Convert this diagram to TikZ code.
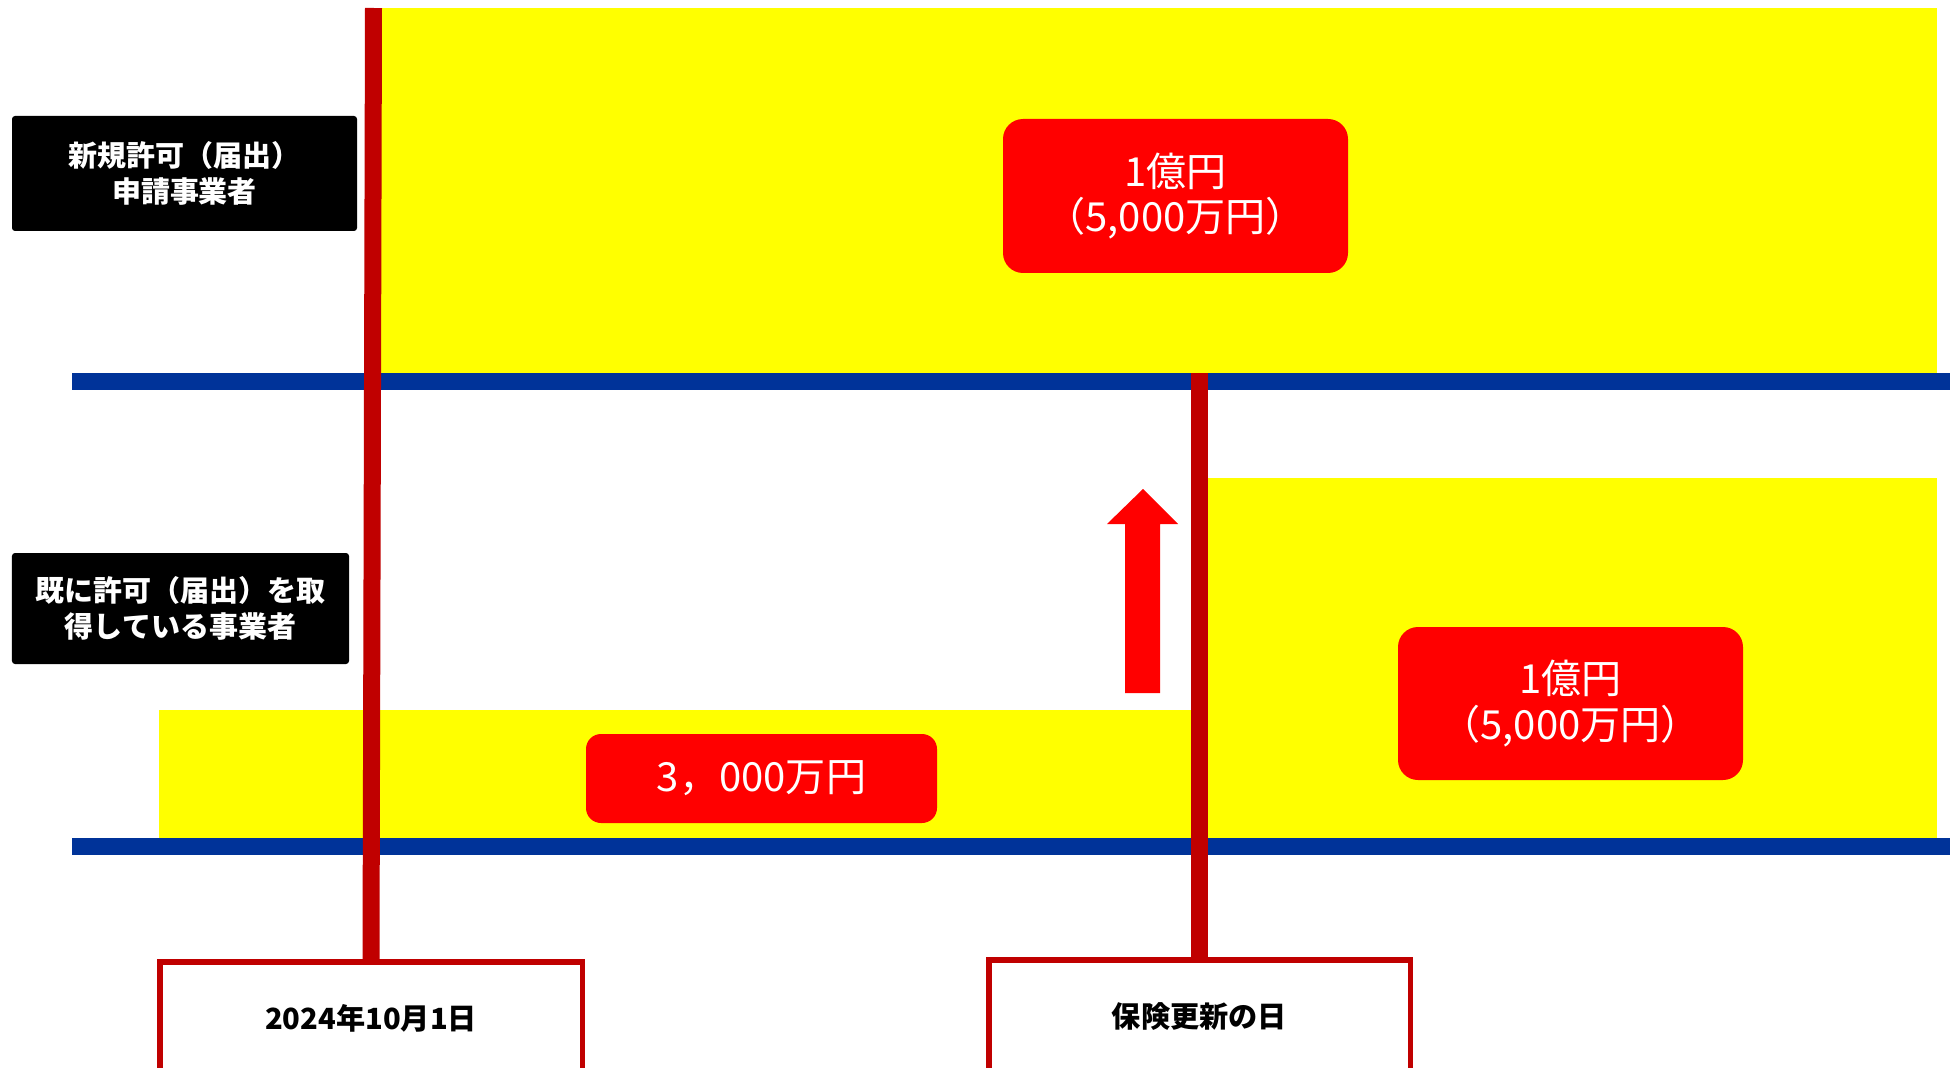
\documentclass[tikz,border=0pt]{standalone}
\usepackage{fontspec}
\setmainfont{Noto Sans CJK JP}
\usepackage{tikz}
\definecolor{darkred}{HTML}{C00000}
\definecolor{lineblue}{HTML}{003399}
\definecolor{bandyellow}{RGB}{255,255,0}
\definecolor{boxred}{RGB}{255,0,0}

\begin{document}
\begin{tikzpicture}[
	groupbox/.style={fill=black, text=white, rounded corners=0.03cm, align=center, inner sep=0, font=\bfseries\fontsize{8.25}{10.4}\selectfont},
	pricebox/.style={fill=boxred, text=white, rounded corners=0.2cm, align=center, inner sep=0, font=\fontsize{11.4}{13}\selectfont},
	datebox/.style={draw=darkred, line width=0.055cm, fill=white, inner sep=0, font=\bfseries\fontsize{8.3}{9.6}\selectfont}
	]
			\useasboundingbox (0,0) rectangle (19.5,10.67);
			\clip (0,0) rectangle (19.5,10.67);
			\fill[color=bandyellow] (3.80,10.59) rectangle (19.37,6.94);
			\fill[color=bandyellow] (12.08,5.89) rectangle (19.37,2.29);
			\fill[color=bandyellow] (1.59,3.57) rectangle (11.91,2.29);
			\fill[color=lineblue] (0.72,6.77) rectangle (19.5,6.94);
			\fill[color=lineblue] (0.72,2.12) rectangle (19.5,2.29);
			\node[groupbox, minimum width=3.45cm, minimum height=1.15cm] (newco) at (1.845,8.935) {新規許可（届出）\\申請事業者};
			\node[groupbox, minimum width=3.37cm, minimum height=1.11cm] (oldco) at (1.805,4.585) {既に許可（届出）を取\\得している事業者};
			\node[pricebox, minimum width=3.45cm, minimum height=1.54cm] (newamt) at (11.755,8.71) {1億円\\（5,000万円）};
			\node[pricebox, minimum width=3.45cm, minimum height=1.53cm] (renewamt) at (15.705,3.635) {1億円\\（5,000万円）};
			\node[pricebox, rounded corners=0.15cm, minimum width=3.51cm, minimum height=0.89cm] (oldamt) at (7.615,2.885) {3，000万円};
			\node[datebox, minimum width=4.225cm, minimum height=1.13cm] (startday) at (3.71,0.486) {2024年10月1日};
			\node[datebox, minimum width=4.215cm, minimum height=1.145cm] (renewday) at (11.995,0.5) {保険更新の日};
			\coordinate (starttop) at (3.735,10.59);
			\coordinate (renewtop) at (11.995,6.94);
			\draw[color=darkred, line width=0.17cm] (startday.north) -- (starttop);
			\draw[color=darkred, line width=0.17cm] (renewday.north) -- (renewtop);
			\fill[color=boxred] (11.25,3.74) -- (11.25,5.43) -- (11.07,5.43) -- (11.43,5.78) -- (11.78,5.43) -- (11.60,5.43) -- (11.60,3.74) -- cycle;
			\end{tikzpicture}
\end{document}
